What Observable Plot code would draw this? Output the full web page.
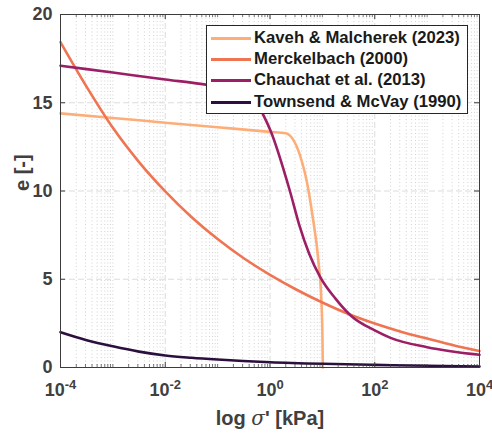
<!DOCTYPE html>
<html>
<head>
<meta charset="utf-8">
<script src="https://cdn.jsdelivr.net/npm/d3@7"></script>
<script src="https://cdn.jsdelivr.net/npm/@observablehq/plot@0.6"></script>
<style>
  body { margin: 0; background: #fff; }
  #wrap { position: relative; width: 492px; height: 435px; font-family: "Liberation Sans", Arial, sans-serif; }
  #legend { position: absolute; left: 206px; top: 25px; width: 262px; height: 89px; box-sizing: border-box;
            border: 1px solid #262626; background: #fff; }
  .row { position: absolute; left: 0; height: 20px; width: 100%; }
  .row .ln { position: absolute; left: 4px; width: 40px; height: 3px; top: 9px; }
  .row .tx { position: absolute; left: 47px; top: 0; font-weight: bold; font-size: 16.7px; line-height: 20px; color: #1a1a1a; white-space: nowrap; }
</style>
</head>
<body>
<div id="wrap"></div>
<script>
// ---- data ----
const seriesNames = ["Kaveh & Malcherek (2023)", "Merckelbach (2000)", "Chauchat et al. (2013)", "Townsend & McVay (1990)"];
const seriesColors = ["#fdae78", "#ef7552", "#9c1f66", "#2b0f3e"];

const kavehSigma = [1e-4, 1e-3, 1e-2, 1e-1, 1, 2, 4.1, 5, 6.4, 8.5, 9.5, 10, 10.2];
const kavehE     = [14.4, 14.14, 13.87, 13.61, 13.35, 13.27, 11.63, 10.6, 8.71, 5.88, 3.98, 2.0, 0];

const merckSigma = [1e-4, 3.16e-4, 1e-3, 3.16e-3, 1e-2, 3.16e-2, 0.1, 0.316, 1, 3.16, 10, 31.6, 100, 316, 1000, 3160, 1e4];
const merckE     = [18.43, 15.9, 13.58, 11.64, 9.98, 8.53, 7.28, 6.19, 5.25, 4.42, 3.68, 3.03, 2.49, 2.03, 1.64, 1.26, 0.93];

const chauSigma = [1e-4, 1e-3, 1e-2, 0.047, 0.1, 0.316, 0.5, 0.72, 1.02, 2.4, 3.6, 5.6, 9.1, 17.8, 34.7, 100, 200, 1000, 1e4];
const chauE     = [17.1, 16.71, 16.32, 16.07, 15.93, 15.7, 15.25, 14.4, 13.43, 10.0, 8.1, 6.45, 5.12, 3.9, 2.95, 2.1, 1.68, 1.15, 0.72];

const townSigma = [1e-4, 3.16e-4, 1e-3, 3.16e-3, 1e-2, 3.16e-2, 0.1, 1, 10, 100, 1000, 1e4];
const townE     = [2.0, 1.55, 1.2, 0.9, 0.68, 0.55, 0.45, 0.30, 0.21, 0.15, 0.095, 0.06];

const xMajorTicks = [1e-4, 1e-2, 1e0, 1e2, 1e4];
const yTicks = [0, 5, 10, 15, 20];
const xLabel = "log σ' [kPa]";
const yLabel = "e [-]";

// ---- build ----
const sig = [kavehSigma, merckSigma, chauSigma, townSigma];
const ev = [kavehE, merckE, chauE, townE];
const data = [];
seriesNames.forEach((name, i) => sig[i].forEach((s, j) => data.push({series: name, s, e: ev[i][j]})));

// minor log positions (2..9 of each decade, plus odd decades)
const xMinor = [];
for (let n = -4; n < 4; n++) {
  for (let k = 1; k <= 9; k++) {
    const v = k * Math.pow(10, n);
    if (!xMajorTicks.some(t => Math.abs(t - v) / t < 1e-9)) xMinor.push(v);
  }
}

const W = 492, H = 435, mL = 60, mR = 13, mT = 14, mB = 68;
const innerH = H - mT - mB, innerW = W - mL - mR;
const axisColor = "#3c3c3c";

const chart = Plot.plot({
  width: W, height: H,
  marginLeft: mL, marginRight: mR, marginTop: mT, marginBottom: mB,
  style: {fontFamily: "'Liberation Sans', Arial, sans-serif", fontWeight: "bold", fontSize: "18px", color: "#404040", background: "#fff"},
  x: {type: "log", domain: [1e-4, 1e4]},
  y: {domain: [0, 20]},
  color: {domain: seriesNames, range: seriesColors},
  marks: [
    Plot.ruleX(xMinor, {stroke: "#c8c8c8", strokeDasharray: "1,2.5", strokeWidth: 0.8}),
    Plot.ruleX(xMajorTicks, {stroke: "#d8d8d8", strokeDasharray: "6,3", strokeWidth: 0.9}),
    Plot.ruleY(yTicks.filter(d => d > 0 && d < 20), {stroke: "#d8d8d8", strokeDasharray: "6,3", strokeWidth: 0.9}),
    Plot.line(data, {x: "s", y: "e", z: "series", stroke: "series", strokeWidth: 2.6, curve: "monotone-x"}),
    // tick marks (inward, bottom and top, left and right)
    Plot.tickX(xMajorTicks, {insetTop: innerH - 5, stroke: axisColor}),
    Plot.tickX(xMajorTicks, {insetBottom: innerH - 5, stroke: axisColor}),
    Plot.tickX(xMinor, {insetTop: innerH - 3, stroke: axisColor, strokeWidth: 0.7}),
    Plot.tickX(xMinor, {insetBottom: innerH - 3, stroke: axisColor, strokeWidth: 0.7}),
    Plot.tickY(yTicks, {insetRight: innerW - 5, stroke: axisColor}),
    Plot.tickY(yTicks, {insetLeft: innerW - 5, stroke: axisColor}),
    Plot.frame({stroke: axisColor, strokeWidth: 1}),
    Plot.axisX(xMajorTicks, {tickSize: 0, tickPadding: 16, fontSize: 18, label: null,
      tickFormat: d => String(Math.round(Math.log10(d)))}),
    Plot.axisY(yTicks, {tickSize: 0, tickPadding: 8, fontSize: 18, label: null}),
    Plot.text([xLabel], {frameAnchor: "bottom", dy: 51, fontSize: 20, fill: "#404040", lineAnchor: "middle"}),
    Plot.text([yLabel], {frameAnchor: "left", dx: -38, rotate: -90, fontSize: 20, fill: "#404040", lineAnchor: "middle"})
  ]
});

// superscript exponents on x tick labels
d3.select(chart).selectAll('g[aria-label="x-axis tick label"] text').each(function () {
  const t = d3.select(this);
  const exp = t.text();
  t.text(null);
  t.append("tspan").text("10");
  t.append("tspan").attr("dy", "-7").attr("font-size", "13px").text(exp);
});
// italic serif sigma in the x label
d3.select(chart).selectAll("text").each(function () {
  const t = d3.select(this);
  if (t.text() === xLabel) {
    const parts = xLabel.split("σ");
    t.text(null);
    t.append("tspan").text(parts[0]);
    t.append("tspan").attr("font-family", "'DejaVu Serif', 'Liberation Serif', serif").attr("font-style", "italic").attr("font-weight", "normal").text("σ");
    t.append("tspan").text(parts[1]);
  }
});

const wrap = document.getElementById("wrap");
wrap.appendChild(chart);

// legend (inside the axes, top right)
const legend = document.createElement("div");
legend.id = "legend";
seriesNames.forEach((name, i) => {
  const row = document.createElement("div");
  row.className = "row";
  row.style.top = (2 + i * 21.2) + "px";
  const ln = document.createElement("div");
  ln.className = "ln";
  ln.style.background = seriesColors[i];
  const tx = document.createElement("div");
  tx.className = "tx";
  tx.textContent = name;
  row.appendChild(ln); row.appendChild(tx);
  legend.appendChild(row);
});
wrap.appendChild(legend);
</script>
</body>
</html>
